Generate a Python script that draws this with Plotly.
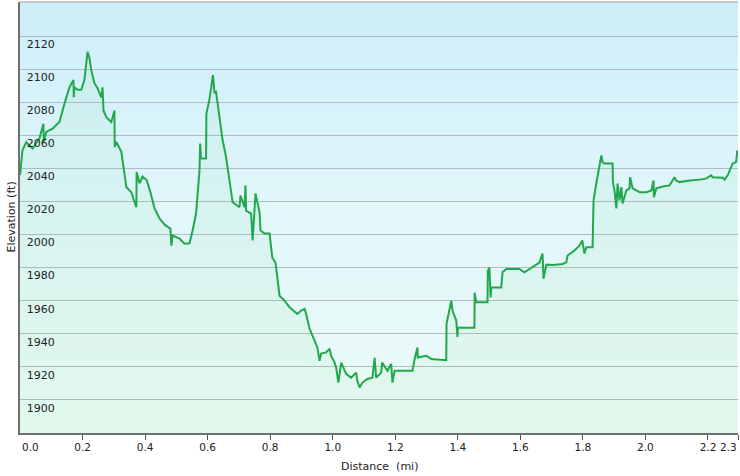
import plotly.graph_objects as go

distance_mi = [0.000, 0.008, 0.020, 0.040, 0.062, 0.075, 0.076, 0.084, 0.104, 0.126,
               0.142, 0.158, 0.171, 0.172, 0.174, 0.184, 0.196, 0.206, 0.216, 0.222,
               0.228, 0.238, 0.248, 0.260, 0.264, 0.267, 0.276, 0.292, 0.302, 0.303,
               0.308, 0.324, 0.334, 0.340, 0.356, 0.366, 0.372, 0.373, 0.382, 0.392,
               0.405, 0.417, 0.430, 0.446, 0.465, 0.481, 0.484, 0.488, 0.510, 0.526,
               0.542, 0.552, 0.563, 0.574, 0.576, 0.579, 0.595, 0.596, 0.606, 0.617,
               0.622, 0.627, 0.638, 0.648, 0.659, 0.670, 0.680, 0.702, 0.705, 0.718,
               0.721, 0.723, 0.739, 0.744, 0.753, 0.766, 0.769, 0.782, 0.798, 0.807,
               0.817, 0.830, 0.846, 0.862, 0.887, 0.899, 0.910, 0.915, 0.926, 0.942,
               0.951, 0.958, 0.963, 0.979, 0.990, 0.995, 1.006, 1.011, 1.018, 1.027,
               1.031, 1.043, 1.059, 1.075, 1.079, 1.086, 1.095, 1.111, 1.127, 1.134,
               1.139, 1.155, 1.158, 1.175, 1.187, 1.191, 1.198, 1.255, 1.262, 1.271,
               1.272, 1.299, 1.315, 1.363, 1.364, 1.374, 1.379, 1.383, 1.395, 1.399,
               1.400, 1.453, 1.454, 1.459, 1.495, 1.496, 1.501, 1.505, 1.507, 1.539,
               1.543, 1.555, 1.597, 1.613, 1.629, 1.645, 1.661, 1.671, 1.674, 1.683,
               1.703, 1.735, 1.747, 1.751, 1.773, 1.789, 1.798, 1.805, 1.811, 1.831,
               1.832, 1.834, 1.843, 1.853, 1.859, 1.863, 1.869, 1.895, 1.896, 1.901,
               1.907, 1.911, 1.917, 1.923, 1.927, 1.939, 1.949, 1.951, 1.959, 1.981,
               2.003, 2.019, 2.026, 2.027, 2.035, 2.055, 2.077, 2.093, 2.098, 2.109,
               2.141, 2.173, 2.194, 2.210, 2.215, 2.247, 2.253, 2.263, 2.279, 2.290,
               2.294]

elevation_ft = [2036.0, 2051.0, 2055.8, 2052.0, 2058.0, 2067.0, 2056.0, 2062.0, 2064.0, 2068.0,
                2079.0, 2089.0, 2093.5, 2083.0, 2089.0, 2087.5, 2087.5, 2093.5, 2110.5, 2106.7,
                2099.4, 2091.5, 2088.5, 2083.0, 2089.0, 2075.0, 2071.0, 2068.0, 2075.0, 2053.0,
                2056.0, 2050.0, 2037.0, 2028.7, 2025.6, 2019.6, 2016.5, 2037.8, 2031.0, 2035.0,
                2033.0, 2025.5, 2016.0, 2009.7, 2005.5, 2003.6, 1993.3, 1999.4, 1997.6, 1994.5,
                1994.7, 2002.4, 2012.7, 2038.8, 2055.0, 2046.0, 2046.0, 2073.0, 2082.0, 2096.4,
                2085.5, 2086.2, 2069.0, 2057.0, 2046.8, 2031.0, 2019.6, 2016.5, 2023.6, 2016.5,
                2029.7, 2014.5, 2012.7, 1996.4, 2024.8, 2013.5, 2002.4, 2000.6, 2000.6, 1986.0,
                1983.0, 1963.0, 1960.0, 1956.0, 1952.0, 1954.0, 1955.0, 1952.0, 1943.0, 1935.8,
                1931.7, 1923.6, 1928.0, 1928.7, 1931.0, 1926.7, 1922.6, 1919.6, 1910.5, 1922.6,
                1920.6, 1915.8, 1913.5, 1916.5, 1911.5, 1907.5, 1910.5, 1912.7, 1913.5, 1925.5,
                1913.5, 1916.5, 1922.6, 1917.6, 1921.8, 1910.5, 1917.6, 1917.6, 1924.8, 1931.7,
                1925.6, 1926.7, 1924.8, 1924.0, 1946.0, 1956.0, 1960.0, 1954.0, 1948.0, 1938.0,
                1943.6, 1943.6, 1964.8, 1959.0, 1959.0, 1978.0, 1980.0, 1962.0, 1968.0, 1968.0,
                1977.2, 1979.2, 1979.2, 1977.2, 1979.2, 1981.0, 1983.0, 1988.5, 1973.3, 1981.8,
                1981.6, 1982.2, 1983.2, 1987.3, 1990.3, 1993.3, 1996.4, 1988.5, 1992.3, 1992.3,
                2008.5, 2020.6, 2031.0, 2040.8, 2047.9, 2043.8, 2043.0, 2043.0, 2031.7, 2026.7,
                2015.8, 2030.9, 2020.6, 2028.7, 2018.8, 2026.7, 2027.9, 2034.7, 2027.9, 2025.6,
                2025.6, 2026.7, 2032.7, 2022.6, 2027.9, 2029.0, 2029.7, 2034.7, 2032.7, 2031.7,
                2032.7, 2033.2, 2033.8, 2035.8, 2034.7, 2034.4, 2033.2, 2035.8, 2043.0, 2043.8,
                2050.9]

x_tick_vals = [0.0, 0.2, 0.4, 0.6, 0.8, 1.0, 1.2, 1.4, 1.6, 1.8, 2.0, 2.2, 2.296]
x_tick_text = ["0.0", "0.2", "0.4", "0.6", "0.8", "1.0", "1.2", "1.4", "1.6", "1.8", "2.0", "2.2", "2.3"]
y_tick_vals = [1900, 1920, 1940, 1960, 1980, 2000, 2020, 2040, 2060, 2080, 2100, 2120]
y_tick_text = [str(v) for v in y_tick_vals]
x_title = "Distance  (mi)"
y_title = "Elevation (ft)"

X_RANGE = [0, 2.296]
Y_RANGE = [1880, 2140.6]
FONT = "DejaVu Sans"
TXT = "#222"
XTF = 10.5

fig = go.Figure()
fig.add_trace(go.Scatter(
    x=distance_mi, y=[Y_RANGE[0]] * len(distance_mi),
    mode="lines", line=dict(width=0), hoverinfo="skip", showlegend=False,
))
fig.add_trace(go.Scatter(
    x=distance_mi, y=elevation_ft, mode="lines",
    line=dict(color="#22a84c", width=2),
    fill="tonexty", fillcolor="rgba(60,200,110,0.06)",
    showlegend=False,
))

# background gradient bands
shapes = []
stops = [(0.0, (205, 238, 250)), (0.5, (226, 247, 250)), (1.0, (236, 251, 245))]
n = 60
def interp(t):
    for (t0, c0), (t1, c1) in zip(stops[:-1], stops[1:]):
        if t0 <= t <= t1:
            f = (t - t0) / (t1 - t0)
            return tuple(round(a + (b - a) * f) for a, b in zip(c0, c1))
    return stops[-1][1]
for i in range(n):
    t = (i + 0.5) / n
    r, g, b = interp(t)
    shapes.append(dict(type="rect", xref="paper", yref="paper", x0=0, x1=1,
                       y0=1 - (i + 1) / n - 0.002, y1=1 - i / n,
                       fillcolor=f"rgb({r},{g},{b})", line=dict(width=0), layer="below"))
shapes.append(dict(type="line", xref="paper", yref="paper", x0=0, x1=1, y0=1, y1=1,
                   line=dict(color="#c4c8ca", width=2), layer="above"))

# edge tick labels are drawn inward (first left-aligned, last right-aligned)
shown_text = [""] + x_tick_text[1:-1] + [""]
annotations = [
    dict(text=x_title, xref="paper", yref="paper", x=0.5, y=0, yshift=-33,
         xanchor="center", yanchor="middle", showarrow=False,
         font=dict(family=FONT, size=11, color=TXT)),
    dict(text=y_title, xref="paper", yref="paper", x=0, y=0.5, xshift=-9,
         xanchor="center", yanchor="middle", textangle=-90, showarrow=False,
         font=dict(family=FONT, size=11, color=TXT)),
    dict(text=x_tick_text[0], xref="x", yref="paper", x=x_tick_vals[0], y=0, yshift=-14,
         xanchor="left", yanchor="middle", showarrow=False,
         font=dict(family=FONT, size=XTF, color=TXT)),
    dict(text=x_tick_text[-1], xref="x", yref="paper", x=x_tick_vals[-1], y=0, yshift=-14,
         xanchor="right", yanchor="middle", showarrow=False, xshift=1,
         font=dict(family=FONT, size=XTF, color=TXT)),
]

fig.update_layout(
    width=740, height=476,
    margin=dict(l=20, r=2, t=2, b=43, autoexpand=False),
    paper_bgcolor="white",
    plot_bgcolor="rgba(0,0,0,0)",
    shapes=shapes,
    annotations=annotations,
    font=dict(family=FONT, size=11, color=TXT),
    xaxis=dict(
        range=X_RANGE, tickvals=x_tick_vals, ticktext=shown_text,
        ticks="outside", ticklen=5, tickcolor="#555", tickwidth=1,
        showgrid=False, zeroline=False, automargin=False,
        ticklabeloverflow="allow", ticklabelstandoff=-2,
        showline=True, linecolor="#6e7072", linewidth=2,
        tickfont=dict(family=FONT, size=XTF, color=TXT),
    ),
    yaxis=dict(
        range=Y_RANGE, tickvals=y_tick_vals, ticktext=y_tick_text,
        ticks="", ticklabelposition="inside", ticklabelshift=8, ticklabelstandoff=6,
        showgrid=True, gridcolor="#b2bcc0", gridwidth=1,
        zeroline=False, showline=True, linecolor="#6e7072", linewidth=2,
        tickfont=dict(family=FONT, size=11, color=TXT),
        automargin=False,
    ),
)

fig.write_html("out.html", config={"displayModeBar": False},
               post_script="document.body.style.margin='0';document.body.style.overflow='hidden';")
